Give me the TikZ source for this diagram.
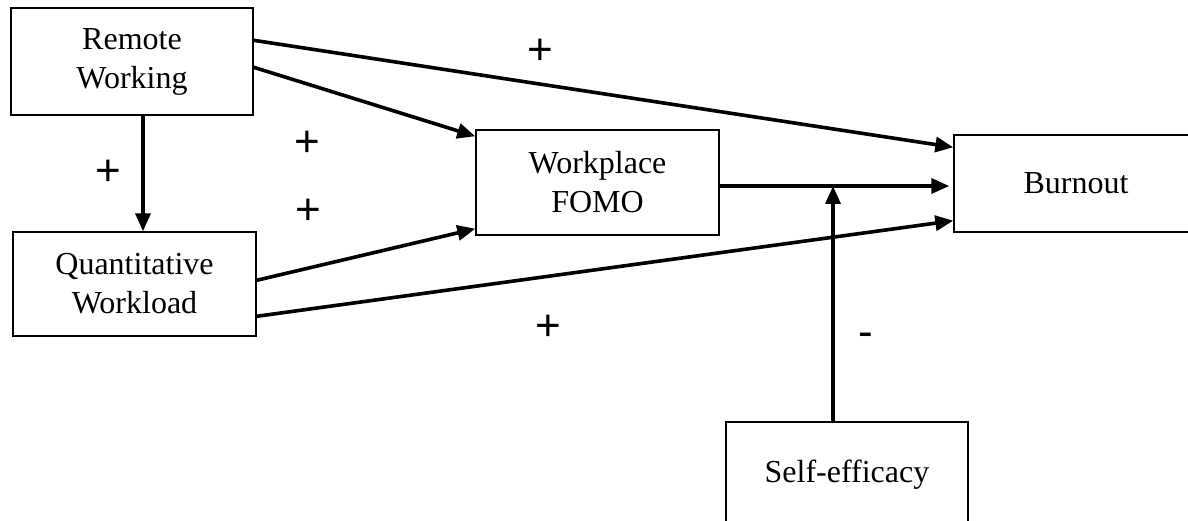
\documentclass[tikz,border=0pt]{standalone}
\usepackage{fontspec}
\setmainfont{Liberation Serif}
\newfontfamily\plusfont{Liberation Sans}
\usetikzlibrary{arrows.meta}
\tikzset{
  box/.style={draw=black, line width=1.4pt, rectangle, align=center, inner sep=0pt,
    font=\fontsize{32}{39}\selectfont},
  conn/.style={line width=3.6pt, -{Triangle[length=18pt,width=15pt]}},
  sign/.style={font=\plusfont\fontsize{44}{48}\selectfont, inner sep=0pt}
}
\begin{document}
\begin{tikzpicture}[x=1pt,y=-1pt]
\useasboundingbox (0,0) rectangle (1188,521);
\clip (0,0) rectangle (1188,521);
\node[box, minimum width=242pt, minimum height=107pt] (rw) at (132,61.5) {Remote\\Working};
\node[box, minimum width=243pt, minimum height=104pt] (qw) at (134.5,284) {Quantitative\\Workload};
\node[box, minimum width=243pt, minimum height=105pt] (fomo) at (597.5,182.5) {Workplace\\FOMO};
\node[box, minimum width=244pt, minimum height=97pt] (bo) at (1076,183.5) {Burnout};
\node[box, minimum width=242pt, minimum height=105pt] (se) at (847,474.5) {Self-efficacy};
\coordinate (m) at (833,186);

\draw[conn] ([yshift=-33pt]rw.north east) -- ([yshift=-13pt]bo.north west);
\draw[conn] ([yshift=-60pt]rw.north east) -- ([yshift=-7pt]fomo.north west);
\draw[conn] (rw.south -| 143,0) -- (qw.north -| 143,0);
\draw[conn] ([yshift=-49pt]qw.north east) -- ([yshift=7pt]fomo.south west);
\draw[conn] ([yshift=-85pt]qw.north east) -- ([yshift=12pt]bo.south west);
\draw[conn, shorten >=4pt] ([yshift=-3.5pt]fomo.east) -- ([yshift=-2.5pt]bo.west);
\draw[conn] ([xshift=-14pt]se.north) -- (m);

\node[sign] (p1) at (540,52) {+};
\node[sign] (p2) at (307,144) {+};
\node[sign] (p3) at (108,173) {+};
\node[sign] (p4) at (308,212) {+};
\node[sign] (p5) at (548,328) {+};
\node[sign] (n1) at (866,340) {-};
\end{tikzpicture}
\end{document}
